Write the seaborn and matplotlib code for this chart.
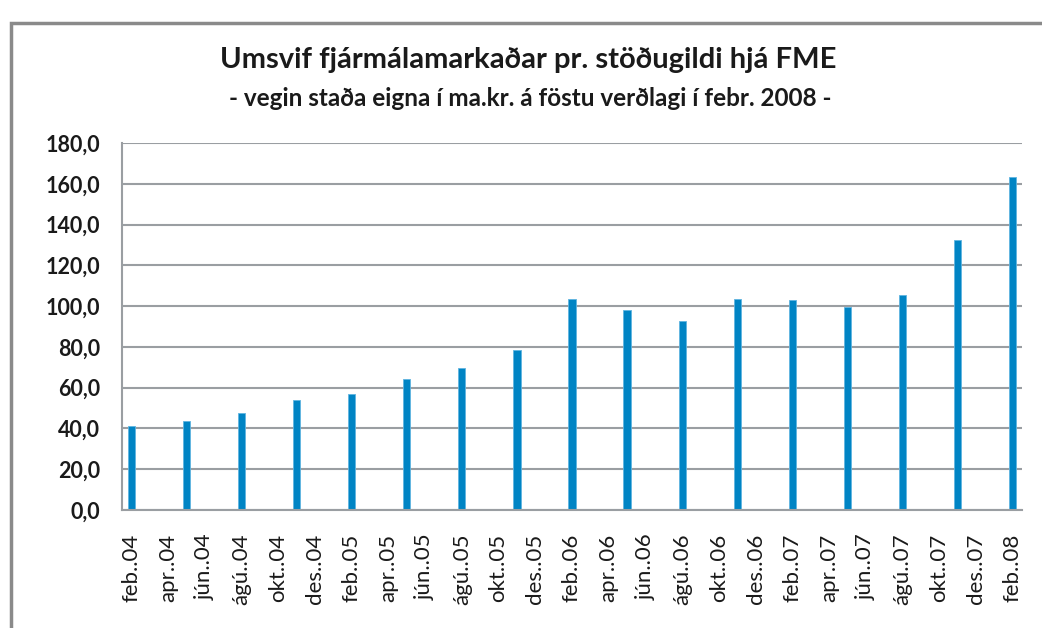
import matplotlib
matplotlib.use("Agg")
import matplotlib.pyplot as plt
import seaborn as sns
import pandas as pd
from matplotlib.patches import Rectangle

# ---- data ----
month_names = ["jan", "feb", "mar", "apr", "maí", "jún", "júl", "ágú", "sep", "okt", "nóv", "des"]
years = ["04", "05", "06", "07", "08"]
# monthly category axis feb..04 .. feb..08
months = [f"{m}..{y}" for y in years for m in month_names]
months = months[months.index("feb..04"): months.index("feb..08") + 1]

periods = ["feb..04", "maí..04", "ágú..04", "nóv..04",
           "feb..05", "maí..05", "ágú..05", "nóv..05",
           "feb..06", "maí..06", "ágú..06", "nóv..06",
           "feb..07", "maí..07", "ágú..07", "nóv..07",
           "feb..08"]
values = [41.2, 43.7, 47.8, 54.0,
          56.8, 64.3, 69.5, 78.5,
          103.4, 98.2, 92.8, 103.4,
          102.9, 99.6, 105.5, 132.2,
          163.3]
yticks = [0, 20, 40, 60, 80, 100, 120, 140, 160, 180]

title = "Umsvif fjármálamarkaðar pr. stöðugildi hjá FME"
subtitle = "- vegin staða eigna í ma.kr. á föstu verðlagi í febr. 2008 -"

# ---- plot ----
sns.set_theme(style="white")
plt.rcParams["font.family"] = ["Lato", "DejaVu Sans"]

fig = plt.figure(figsize=(10.42, 6.28), dpi=100)
ax = fig.add_axes([122 / 1042, 1 - 510 / 628, 900 / 1042, 367 / 628])

df = pd.DataFrame({"period": periods, "value": values})
sns.barplot(data=df, x="period", y="value", order=months, color="#0084C4",
            saturation=1, width=0.4, edgecolor="#5fb4e0", linewidth=0.6, ax=ax)

ax.set_xlim(-0.5, len(months) - 0.5)
ax.set_ylim(0, 180)
ax.set_yticks(yticks)
ax.set_yticklabels([f"{v:.1f}".replace(".", ",") for v in yticks],
                   fontsize=15.5, fontweight="bold", color="#1a1a1a")
tick_pos = list(range(0, len(months), 2))
ax.set_xticks(tick_pos)
ax.set_xticklabels([months[i] for i in tick_pos], rotation=90, fontsize=16,
                   color="#1a1a1a", va="top")
ax.tick_params(axis="y", length=0, pad=16)
ax.tick_params(axis="x", length=0, pad=17)
ax.set_xlabel("")
ax.set_ylabel("")

ax.grid(axis="y", color="#9a9ea2", linewidth=1.5)
ax.set_axisbelow(True)
for s in ["top", "right"]:
    ax.spines[s].set_visible(False)
for s in ["left", "bottom"]:
    ax.spines[s].set_color("#9a9ea2")
    ax.spines[s].set_linewidth(1.5)

fig.text(528 / 1042, 1 - 60 / 628, title, ha="center", va="center", fontsize=21,
         fontweight="bold", color="#1a1a1a")
fig.text(530 / 1042, 1 - 98 / 628, subtitle, ha="center", va="center", fontsize=17.5,
         fontweight="bold", color="#1a1a1a")

fig.patches.append(Rectangle((11 / 1042, -0.1), 1.2, 1 - 23 / 628 + 0.1,
                             transform=fig.transFigure, fill=False,
                             edgecolor="#8a8a8a", linewidth=2.5))

fig.savefig("out.png", dpi=100, facecolor="white")
